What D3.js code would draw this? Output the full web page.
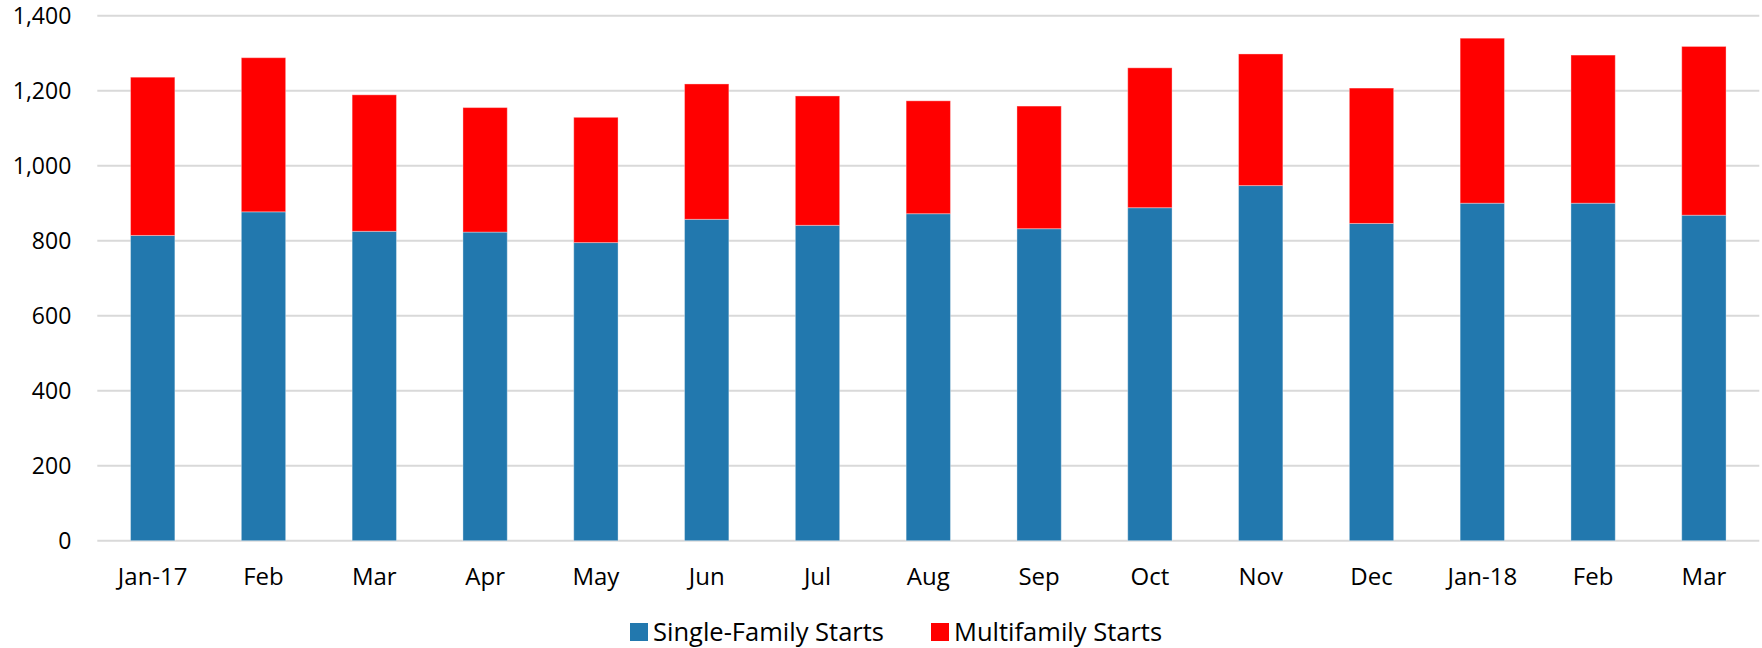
<!DOCTYPE html>
<html>
<head>
<meta charset="utf-8">
<script src="https://cdn.jsdelivr.net/npm/d3@7"></script>
<style>
  html, body { margin: 0; padding: 0; background: #fff; }
  svg { display: block; }
  text { font-family: "Open Sans", sans-serif; fill: #000; }
</style>
</head>
<body>
<svg id="chart" width="1762" height="648"></svg>
<script>
const categories = ["Jan-17","Feb","Mar","Apr","May","Jun","Jul","Aug","Sep","Oct","Nov","Dec","Jan-18","Feb","Mar"];
const singleFamily = [814, 877, 825, 823, 795, 857, 841, 872, 832, 888, 947, 846, 900, 900, 868];
const totalStarts  = [1236, 1288, 1189, 1155, 1129, 1218, 1186, 1173, 1159, 1261, 1298, 1207, 1340, 1295, 1318];
const multifamily = totalStarts.map((t, i) => t - singleFamily[i]);
const yTicks = [0, 200, 400, 600, 800, 1000, 1200, 1400];
const seriesNames = ["Single-Family Starts", "Multifamily Starts"];
const seriesColors = ["#2278ae", "#ff0000"];

const W = 1762, H = 648;
const m = { left: 97.3, right: 2.7, top: 15.7, bottom: 107.3 };
const svg = d3.select("#chart");

const x = d3.scaleBand()
  .domain(d3.range(categories.length))
  .range([m.left, W - m.right])
  .paddingInner(0.6)
  .paddingOuter(0.3);
const y = d3.scaleLinear().domain([0, 1400]).range([H - m.bottom, m.top]);

// gridlines
svg.append("g")
  .selectAll("line")
  .data(yTicks)
  .join("line")
  .attr("x1", m.left).attr("x2", W - m.right)
  .attr("y1", d => y(d)).attr("y2", d => y(d))
  .attr("stroke", "#d9d9d9")
  .attr("stroke-width", 2);

// y axis labels
const yAxis = d3.axisLeft(y).tickValues(yTicks).tickFormat(d3.format(",")).tickSize(0).tickPadding(26);
const gy = svg.append("g").attr("transform", `translate(${m.left},0)`).call(yAxis);
gy.select(".domain").remove();
gy.selectAll("text").attr("font-size", 23).attr("font-family", "Open Sans").attr("fill", "#000").attr("dy", "0.34em");

// stacked bars
const rows = categories.map((c, i) => ({ i, single: singleFamily[i], multi: multifamily[i] }));
const stack = d3.stack().keys(["single", "multi"])(rows);

svg.append("g")
  .selectAll("g")
  .data(stack)
  .join("g")
  .attr("fill", (d, k) => seriesColors[k])
  .selectAll("rect")
  .data(d => d)
  .join("rect")
  .attr("x", d => x(d.data.i))
  .attr("width", x.bandwidth())
  .attr("y", d => y(d[1]))
  .attr("height", d => y(d[0]) - y(d[1]))
  .attr("stroke", "rgba(255,255,255,0.35)")
  .attr("stroke-width", 1);

// x axis labels
const xAxis = d3.axisBottom(x).tickFormat(i => categories[i]).tickSize(0).tickPadding(27);
const gx = svg.append("g").attr("transform", `translate(0,${H - m.bottom})`).call(xAxis);
gx.select(".domain").remove();
gx.selectAll("text").attr("font-size", 24).attr("font-family", "Open Sans").attr("fill", "#000");

// legend
const legend = svg.append("g").attr("transform", "translate(630,623)");
const lx = [0, 301];
seriesNames.forEach((name, k) => {
  const g = legend.append("g").attr("transform", `translate(${lx[k]},0)`);
  g.append("rect").attr("width", 18).attr("height", 18).attr("fill", seriesColors[k]);
  g.append("text").attr("x", 23).attr("y", 9).attr("dy", "0.36em")
    .attr("font-size", 25.5).text(name);
});
</script>
</body>
</html>
